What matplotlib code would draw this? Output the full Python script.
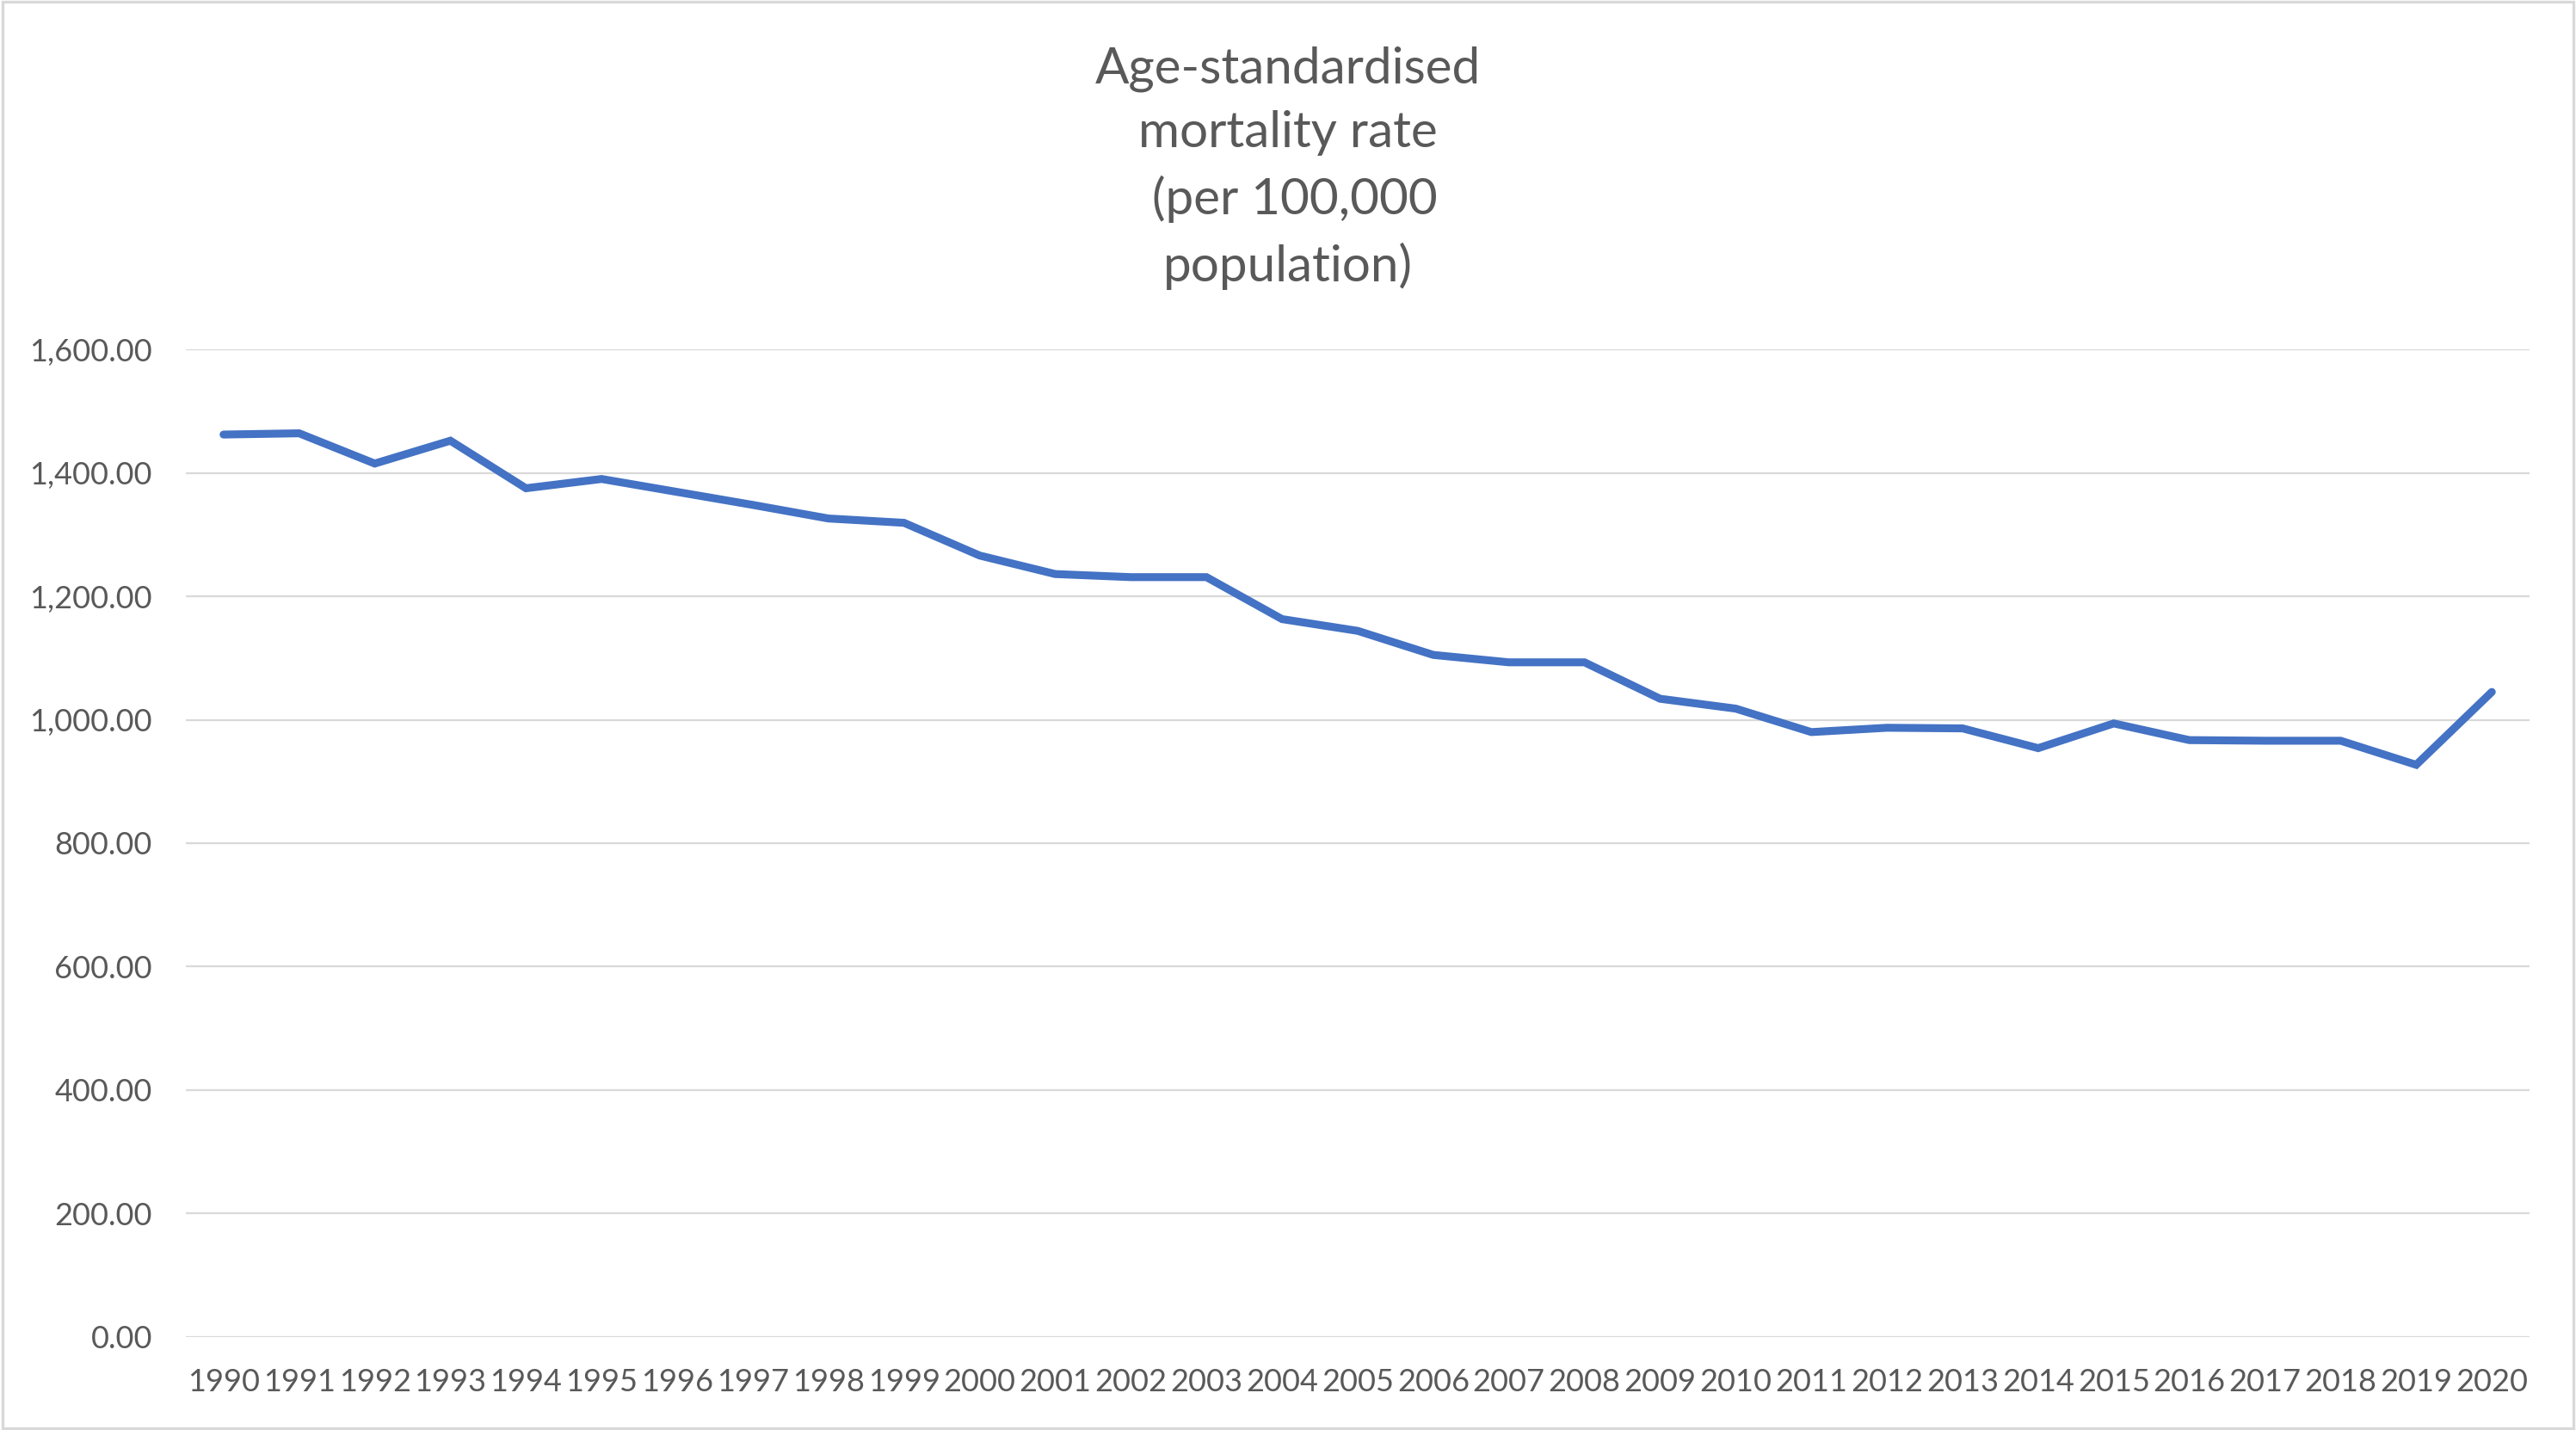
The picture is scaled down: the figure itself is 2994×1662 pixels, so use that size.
import matplotlib.pyplot as plt
from matplotlib.patches import Rectangle
from matplotlib.ticker import FuncFormatter

years = [str(y) for y in range(1990, 2021)]
mortality_rate = [1462, 1464, 1415, 1452, 1375, 1390, 1369, 1348, 1326, 1319,
                  1266, 1236, 1231, 1231, 1163, 1144, 1105, 1093, 1093, 1034,
                  1018, 980, 987, 986, 954, 994, 967, 966, 966, 927, 1045]
y_ticks = [0, 200, 400, 600, 800, 1000, 1200, 1400, 1600]

plt.rcParams['font.family'] = ['Lato', 'DejaVu Sans']
grey = '#595959'

fig = plt.figure(figsize=(14.97, 8.31), dpi=200)
ax = fig.add_axes([0.0721, 0.065, 0.982 - 0.0721, 0.7557 - 0.065])

x = list(range(len(years)))
ax.plot(x, mortality_rate, color='#4472C4', linewidth=3.3, solid_capstyle='round',
        solid_joinstyle='miter', zorder=3)

ax.set_xlim(-0.5, len(years) - 0.5)
ax.set_ylim(0, 1600)
ax.set_xticks(x)
ax.set_xticklabels(years)
ax.set_yticks(y_ticks)
ax.yaxis.set_major_formatter(FuncFormatter(lambda v, p: f'{v:,.2f}'))
ax.grid(axis='y', color='#D9D9D9', linewidth=0.8)
ax.set_axisbelow(True)
for side in ['top', 'right', 'left', 'bottom']:
    ax.spines[side].set_visible(False)
ax.tick_params(axis='both', length=0, labelcolor=grey, labelsize=13)
ax.tick_params(axis='y', pad=14)
ax.tick_params(axis='x', pad=13)

fig.text(0.5, 0.968, 'Age-standardised\nmortality rate\n (per 100,000\npopulation)',
         ha='center', va='top', fontsize=21, color=grey, linespacing=1.5)

# light grey chart border
fig.patches.append(Rectangle((0.001, 0.001), 0.998, 0.998, transform=fig.transFigure,
                             fill=False, edgecolor='#D9D9D9', linewidth=1.2))

fig.savefig('out.png', dpi=200, facecolor='white')
